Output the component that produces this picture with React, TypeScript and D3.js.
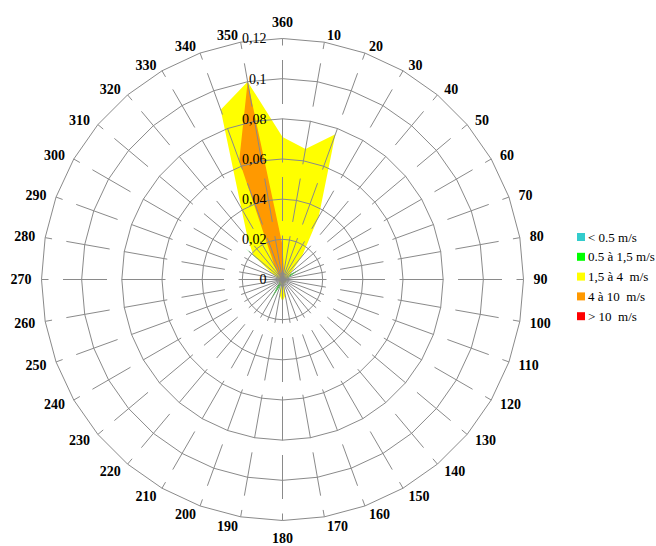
import React from 'react';
import * as d3 from 'd3';

// Directions (degrees, clockwise from north)
const directions = [0, 10, 20, 30, 40, 50, 60, 70, 80, 90, 100, 110, 120, 130, 140, 150, 160, 170,
  180, 190, 200, 210, 220, 230, 240, 250, 260, 270, 280, 290, 300, 310, 320, 330, 340, 350];
const directionLabels = ["360", "10", "20", "30", "40", "50", "60", "70", "80", "90", "100", "110", "120", "130",
  "140", "150", "160", "170", "180", "190", "200", "210", "220", "230", "240", "250", "260", "270", "280", "290",
  "300", "310", "320", "330", "340", "350"];

// Frequencies per speed class (same order as directions)
const calm = [0, 0, 0, 0, 0, 0, 0, 0, 0, 0, 0, 0, 0, 0, 0, 0, 0, 0,
  0, 0, 0, 0, 0, 0, 0, 0, 0, 0, 0, 0, 0, 0, 0, 0, 0, 0];
const light = [0.002, 0.002, 0.002, 0.002, 0.002, 0.003, 0.010, 0.003, 0.002, 0.002, 0.002, 0.002, 0.002, 0.002, 0.002, 0.002, 0.002, 0.002,
  0.002, 0.002, 0.003, 0.012, 0.003, 0.002, 0.002, 0.002, 0.002, 0.002, 0.002, 0.002, 0.003, 0.024, 0.003, 0.002, 0.002, 0.002];
const moderate = [0.071, 0.066, 0.077, 0.036, 0.015, 0.006, 0.004, 0.003, 0.002, 0.002, 0.002, 0.002, 0.002, 0.002, 0.002, 0.002, 0.002, 0.008,
  0.011, 0.008, 0.002, 0.003, 0.002, 0.002, 0.002, 0.002, 0.002, 0.002, 0.002, 0.003, 0.006, 0.019, 0.027, 0.041, 0.090, 0.100];
const strong = [0.017, 0.004, 0.002, 0.002, 0.001, 0.001, 0.001, 0.001, 0.001, 0.001, 0.001, 0.001, 0.001, 0.001, 0.001, 0.001, 0.001, 0.001,
  0.001, 0.001, 0.001, 0.001, 0.001, 0.001, 0.001, 0.001, 0.001, 0.001, 0.001, 0.001, 0.001, 0.001, 0.003, 0.008, 0.063, 0.100];
const veryStrong = [0, 0, 0, 0, 0, 0, 0, 0, 0, 0, 0, 0, 0, 0, 0, 0, 0, 0,
  0, 0, 0, 0, 0, 0, 0, 0, 0, 0, 0, 0, 0, 0, 0, 0, 0, 0];

const seriesList = [calm, light, moderate, strong, veryStrong];
const seriesColors = ["#33CCCC", "#00FF00", "#FFFF00", "#FF9900", "#FF0000"];
const legendLabels = ["< 0.5 m/s", "0.5 à 1,5 m/s", "1,5 à 4  m/s", "4 à 10  m/s", "> 10  m/s"];

const radialTicks = [0, 0.02, 0.04, 0.06, 0.08, 0.1, 0.12];
const radialTickLabels = ["0", "0,02", "0,04", "0,06", "0,08", "0,1", "0,12"];

const W = 656;
const H = 546;
const cx = 282.5;
const cy = 279.5;
const R = 241;
const FONT = '"Liberation Serif", "Times New Roman", serif';
const GRID = "#8a8a8a";

export default function App() {
  const r = d3.scaleLinear().domain([0, 0.12]).range([0, R]);
  const toRad = (deg: number) => (deg * Math.PI) / 180;

  const area = (vals: number[]) =>
    d3.lineRadial<number>()
      .angle((_d, i) => toRad(directions[i]))
      .radius((d) => r(d))
      .curve(d3.curveLinearClosed)(vals) || "";

  const ring = (v: number) =>
    d3.lineRadial<number>()
      .angle((d) => toRad(d))
      .radius(() => r(v))
      .curve(d3.curveLinearClosed)(directions) || "";

  return (
    <svg width={W} height={H} style={{ position: 'absolute', left: 0, top: 0, background: '#fff' }}
      fontFamily={FONT}>
      <g transform={`translate(${cx},${cy})`}>
        {seriesList.map((s, i) => (
          <path key={i} d={area(s)} fill={seriesColors[i]} stroke="none" />
        ))}
        {radialTicks.slice(1).map((v, i) => (
          <path key={i} d={ring(v)} fill="none" stroke={GRID} strokeWidth={1} />
        ))}
        {directions.map((d, i) => {
          const a = toRad(d);
          return (
            <line key={i} x1={0} y1={0} x2={R * Math.sin(a)} y2={-R * Math.cos(a)}
              stroke={GRID} strokeWidth={1} strokeDasharray="44 14.5" />
          );
        })}
        {radialTicks.map((v, i) => (
          <text key={i} x={-16} y={-r(v)} dy="0.35em" textAnchor="end" fontSize={14} fill="#000">
            {radialTickLabels[i]}
          </text>
        ))}
        {directions.map((d, i) => {
          const a = toRad(d);
          const px = 250 * Math.sin(a);
          const py = -250 * Math.cos(a);
          let anchor: 'start' | 'end' | 'middle' = 'middle';
          let x = px;
          let y = py;
          let dy = '0.35em';
          if (d === 0) {
            y = py - 3;
            dy = '0em';
          } else if (d === 180) {
            y = py + 3;
            dy = '0.72em';
          } else if (d < 180) {
            anchor = 'start';
            x = px + 1;
            y = py + (Math.cos(a) > 0 ? 2 * Math.cos(a) : 0);
          } else {
            anchor = 'end';
            x = px - 1;
            y = py + (Math.cos(a) > 0 ? 2 * Math.cos(a) : 0);
          }
          return (
            <text key={i} x={x} y={y} dy={dy} textAnchor={anchor} fontSize={14} fontWeight="bold" fill="#000">
              {directionLabels[i]}
            </text>
          );
        })}
      </g>
      <g transform="translate(577,237)">
        {legendLabels.map((l, i) => (
          <g key={i} transform={`translate(0,${i * 19.8})`}>
            <rect x={0} y={-4} width={8} height={8} fill={seriesColors[i]} />
            <text x={11} y={0} dy="0.35em" fontSize={13} fill="#000" style={{ whiteSpace: 'pre' }}>{l}</text>
          </g>
        ))}
      </g>
    </svg>
  );
}
